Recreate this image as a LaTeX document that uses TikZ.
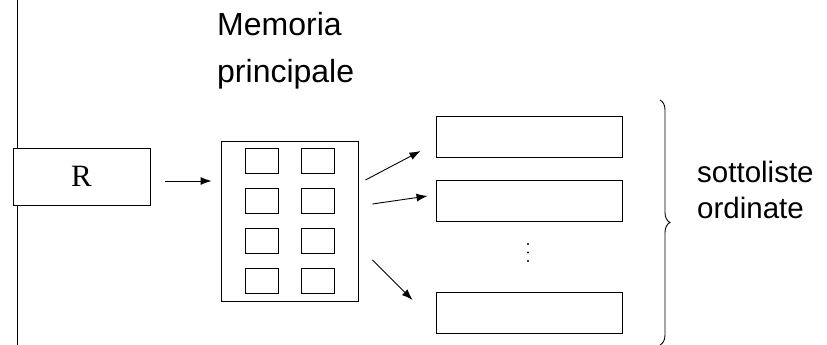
\documentclass[tikz,border=0pt]{standalone}
\usepackage{fontspec}
\setmainfont{Liberation Serif}
\newfontfamily\labelfont{Liberation Sans}
\usepackage{tikz}
\usetikzlibrary{arrows.meta,decorations.pathreplacing,calc}
\tikzset{box/.style={draw, fill=white, line width=0.9pt, inner sep=0pt}}
\tikzset{regbox/.style={box, minimum width=137pt, minimum height=57pt, font=\fontsize{31}{36}\selectfont}}
\tikzset{membox/.style={box, minimum width=137pt, minimum height=160pt}}
\tikzset{cell/.style={box, minimum width=33pt, minimum height=25pt}}
\tikzset{sublist/.style={box, minimum width=186pt, minimum height=41pt}}
\tikzset{arc/.style={line width=0.9pt, -{Latex[length=11pt,width=8pt]}}}
\tikzset{caption/.style={anchor=base west, inner sep=0pt, font=\fontsize{#1}{#1}\labelfont}}
\tikzset{caption/.default=32}

\begin{document}
\begin{tikzpicture}[x=1pt,y=-1pt]
\useasboundingbox (0,0) rectangle (827,345);

% linea di sinistra
\coordinate (top) at (17,0);
\coordinate (bot) at (17,345);
\draw[line width=0.9pt] (top)--(bot);

\node (R) at (81.5,176.5)[regbox]{R};

%memoria principale
\node (ml1) at (217,36)[caption]{Memoria};
\node (ml2) at (217,82)[caption]{principale};
\node (mem) at (289.5,221)[membox]{};
\node (c11) at (261.5,160.5)[cell]{};
\node (c12) at (317.5,160.5)[cell]{};
\node (c21) at (261.5,200.5)[cell]{};
\node (c22) at (317.5,200.5)[cell]{};
\node (c31) at (261.5,240.5)[cell]{};
\node (c32) at (317.5,240.5)[cell]{};
\node (c41) at (261.5,280.5)[cell]{};
\node (c42) at (317.5,280.5)[cell]{};

%sottoliste
\node (l1) at (529,136.5)[sublist]{};
\node (l2) at (529,201)[sublist]{};
\node (l3) at (529,312.5)[sublist]{};
\fill (528,244) circle (1.2pt);
\fill (528,252.5) circle (1.2pt);
\fill (528,261) circle (1.2pt);

\draw[arc, shorten <=15pt, shorten >=9pt] ([yshift=-4.5pt]R.east)--([yshift=-4.5pt]R.east -| mem.west);
\draw[arc] ([shift={(7,-41)}]mem.east)--([shift={(-15,14.5)}]l1.west);
\draw[arc] ([shift={(14,-17)}]mem.east)--([shift={(-8,-5)}]l2.west);
\draw[arc] ([shift={(14,39)}]mem.east)--([shift={(-23,-12.5)}]l3.west);

%parentesi
\coordinate (btop) at (660,100);
\coordinate (bbot) at (660,345);
\draw[line width=0.9pt, decorate, decoration={brace, amplitude=10pt}] (btop)--(bbot);
\node (s1) at (697,182)[caption=29.5]{sottoliste};
\node (s2) at (697,218)[caption=29.5]{ordinate};

\end{tikzpicture}
\end{document}
